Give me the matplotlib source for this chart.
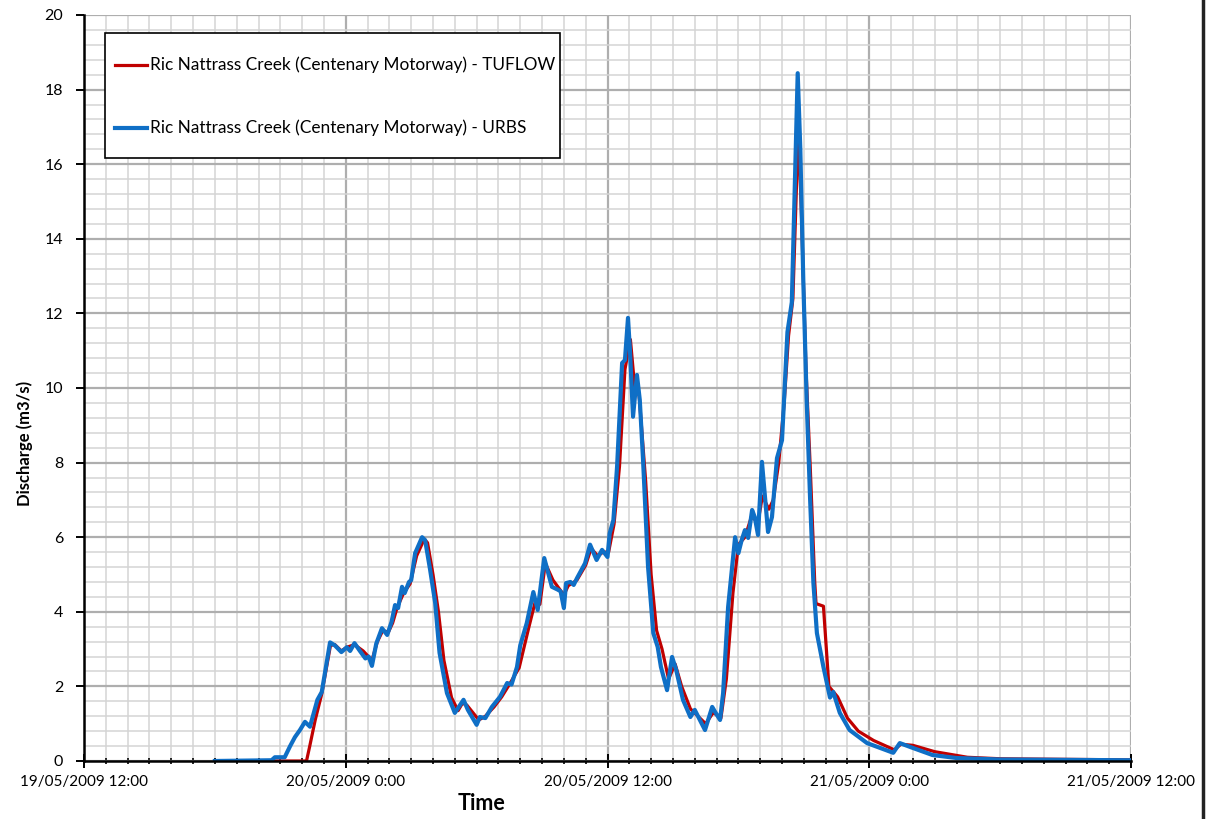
import datetime as dt
import matplotlib
matplotlib.use("Agg")
import matplotlib.pyplot as plt
import matplotlib.dates as mdates
from matplotlib.ticker import MultipleLocator, FuncFormatter, NullFormatter
from matplotlib.lines import Line2D
from matplotlib.patches import Rectangle

# Hours after 19/05/2009 12:00 and discharge (m3/s)
urbs_hours = [6.0, 8.6, 8.75, 9.2, 9.45, 9.67, 9.9, 10.13, 10.36, 10.7, 10.9, 11.28, 11.5, 11.8,
              12.05, 12.2, 12.4, 12.65, 12.9, 13.05, 13.2, 13.4, 13.66, 13.9, 14.1, 14.26, 14.4,
              14.58, 14.7, 14.9, 15.0, 15.18, 15.5, 15.64, 15.87, 16.1, 16.3, 16.64, 17.0, 17.15,
              17.4, 17.6, 18.0, 18.15, 18.4, 18.7, 19.07, 19.4, 19.6, 19.85, 20.0, 20.3, 20.6,
              20.8, 21.1, 21.45, 21.7, 21.85, 22.0, 22.1, 22.3, 22.45, 22.6, 22.97, 23.2, 23.5,
              23.75, 24.0, 24.1, 24.27, 24.44, 24.67, 24.8, 24.94, 25.03, 25.17, 25.35, 25.48,
              25.63, 25.86, 26.1, 26.3, 26.45, 26.73, 26.96, 27.15, 27.46, 27.8, 28.0, 28.47,
              28.8, 28.95, 29.16, 29.3, 29.53, 29.85, 30.0, 30.15, 30.3, 30.45, 30.63, 30.75,
              30.9, 31.08, 31.22, 31.36, 31.54, 31.77, 32.0, 32.25, 32.45, 32.72, 32.84, 32.98,
              33.13, 33.29, 33.44, 33.6, 33.9, 34.2, 34.35, 34.65, 35.1, 35.9, 37.1, 37.4, 38.0,
              38.9, 40.0, 42.0, 48.0]
urbs_flow = [0.0, 0.02, 0.1, 0.1, 0.4, 0.64, 0.83, 1.05, 0.92, 1.64, 1.85, 3.18, 3.1, 2.92,
             3.05, 2.95, 3.16, 2.95, 2.75, 2.8, 2.55, 3.15, 3.56, 3.38, 3.73, 4.18, 4.1,
             4.67, 4.5, 4.8, 4.85, 5.57, 6.0, 5.92, 5.12, 4.24, 2.9, 1.82, 1.29, 1.42,
             1.64, 1.37, 0.97, 1.18, 1.15, 1.45, 1.72, 2.09, 2.05, 2.52, 3.1, 3.7, 4.53,
             4.05, 5.44, 4.67, 4.6, 4.55, 4.1, 4.77, 4.8, 4.72, 4.9, 5.3, 5.8, 5.39,
             5.66, 5.47, 6.1, 6.46, 7.9, 10.67, 10.75, 11.88, 11.0, 9.23, 10.35, 9.68,
             8.07, 5.2, 3.43, 3.06, 2.52, 1.9, 2.79, 2.44, 1.64, 1.18, 1.37, 0.83,
             1.45, 1.3, 1.1, 1.82, 4.13, 6.0, 5.57, 5.92, 6.19, 5.98, 6.73, 6.54,
             6.06, 8.02, 7.08, 6.14, 6.54, 8.12, 8.6, 11.5, 12.3, 18.44, 16.4, 12.8,
             9.68, 7.0, 4.77, 3.43, 2.52, 1.7, 1.85, 1.29, 0.83, 0.48, 0.22, 0.48, 0.35,
             0.16, 0.08, 0.04, 0.02]

tuflow_hours = [6.0, 10.2, 10.35, 10.6, 10.9, 11.3, 11.5, 11.8, 12.05, 12.4, 12.8, 13.2, 13.45,
                13.7, 13.95, 14.15, 14.35, 14.65, 14.95, 15.25, 15.6, 15.75, 16.0, 16.25, 16.5,
                16.85, 17.15, 17.35, 17.55, 18.1, 18.4, 18.8, 19.15, 19.5, 19.95, 20.4, 20.7,
                20.9, 21.15, 21.5, 22.0, 22.2, 22.6, 23.0, 23.25, 23.55, 23.8, 24.05, 24.3,
                24.55, 24.8, 25.05, 25.25, 25.45, 25.75, 26.0, 26.25, 26.5, 26.8, 27.1, 27.4,
                27.8, 28.5, 28.85, 29.2, 29.45, 29.75, 30.0, 30.3, 30.6, 30.9, 31.1, 31.4,
                31.6, 31.85, 32.1, 32.3, 32.5, 32.75, 32.9, 33.1, 33.3, 33.5, 33.56, 33.9,
                34.15, 34.55, 35.0, 35.5, 36.2, 37.15, 37.45, 38.0, 39.0, 40.5, 42.0, 48.0]
tuflow_flow = [0.0, 0.0, 0.4, 1.1, 1.8, 3.1, 3.12, 2.95, 3.05, 3.12, 2.95, 2.7, 3.2,
               3.5, 3.45, 3.7, 4.1, 4.5, 4.75, 5.5, 5.95, 5.85, 5.0, 4.0, 2.7,
               1.7, 1.35, 1.55, 1.5, 1.1, 1.2, 1.45, 1.72, 2.05, 2.5, 3.6, 4.3,
               4.2, 5.3, 4.85, 4.45, 4.7, 4.85, 5.25, 5.7, 5.5, 5.6, 5.6, 6.35,
               7.9, 10.5, 11.3, 10.0, 9.8, 7.5, 5.0, 3.5, 3.0, 2.2, 2.6, 2.0,
               1.4, 1.0, 1.3, 1.15, 2.2, 4.5, 5.8, 6.0, 6.55, 6.4, 7.1, 6.75,
               7.0, 8.0, 9.6, 11.4, 12.4, 17.0, 14.5, 10.5, 7.8, 4.8, 4.22, 4.15,
               2.0, 1.72, 1.15, 0.8, 0.55, 0.3, 0.45, 0.42, 0.25, 0.1, 0.06, 0.03]

series_labels = ["Ric Nattrass Creek (Centenary Motorway) - TUFLOW",
                 "Ric Nattrass Creek (Centenary Motorway) - URBS"]
series_colors = ["#C00000", "#0F6FC6"]
series_widths = [2.3, 3.0]

start = dt.datetime(2009, 5, 19, 12, 0)


def to_times(hours):
    return [start + dt.timedelta(hours=h) for h in hours]


plt.rcParams["font.family"] = ["Lato", "DejaVu Sans"]

fig = plt.figure(figsize=(12.06, 8.19), dpi=100)
ax = fig.add_axes([84 / 1206, 1 - 761 / 819, (1131 - 84) / 1206, (761 - 15) / 819])

ax.plot(to_times(tuflow_hours), tuflow_flow, color=series_colors[0], lw=series_widths[0],
        solid_joinstyle="round", zorder=3)
ax.plot(to_times(urbs_hours), urbs_flow, color=series_colors[1], lw=series_widths[1],
        solid_joinstyle="round", zorder=4)

ax.set_xlim(start, start + dt.timedelta(hours=48))
ax.set_ylim(0, 20)

ax.xaxis.set_major_locator(mdates.HourLocator(byhour=[0, 12]))
ax.xaxis.set_minor_locator(mdates.HourLocator(interval=1))


def fmt_date(x, pos=None):
    d = mdates.num2date(x)
    return f"{d:%d/%m/%Y} {d.hour}:{d:%M}"


ax.xaxis.set_major_formatter(FuncFormatter(fmt_date))
ax.xaxis.set_minor_formatter(NullFormatter())
ax.yaxis.set_major_locator(MultipleLocator(2))
ax.yaxis.set_minor_locator(MultipleLocator(0.4))

ax.grid(which="minor", color="#D4D4D4", lw=1.1, zorder=0)
ax.grid(which="major", color="#AEAEAE", lw=1.6, zorder=0)
ax.set_axisbelow(True)

for side in ("top", "right"):
    ax.spines[side].set_visible(False)
for side in ("left", "bottom"):
    ax.spines[side].set_linewidth(1.8)
    ax.spines[side].set_color("black")
    ax.spines[side].set_zorder(5)

ax.tick_params(axis="x", which="major", direction="inout", length=10, width=1.4,
               labelsize=11, pad=5, colors="black")
ax.tick_params(axis="x", which="minor", direction="inout", length=5, width=1.2)
ax.tick_params(axis="y", which="major", direction="out", length=6, width=1.4,
               labelsize=11.5, pad=9)
ax.tick_params(axis="y", which="minor", length=0)

ax.set_xlabel("Time", fontsize=15.5, fontweight="bold")
ax.xaxis.set_label_coords((481 - 84) / 1047, (761 - 803) / 746)
ax.xaxis.label.set_va("center")
ax.set_ylabel("Discharge (m3/s)", fontsize=12, fontweight="bold")
ax.yaxis.set_label_coords((25 - 84) / 1047, (761 - 443) / 746)
ax.yaxis.label.set_va("center")

# Legend box with its two entries
leg_box = Rectangle((0.0201, 0.8083), 0.4345, 0.1676, transform=ax.transAxes,
                    facecolor="white", edgecolor="black", lw=1.2, zorder=6)
ax.add_patch(leg_box)
for label, color, width, ypos in zip(series_labels, series_colors, series_widths,
                                     [0.933, 0.8485]):
    ax.add_line(Line2D([0.0296, 0.0602], [ypos, ypos], transform=ax.transAxes,
                       color=color, lw=width, zorder=7))
    ax.text(0.0630, ypos, label, transform=ax.transAxes, fontsize=12.4,
            va="center", ha="left", zorder=7)

# Right-hand border of the chart area
fig.add_artist(Line2D([1203 / 1206, 1203 / 1206], [0, 1], transform=fig.transFigure,
                      color="#222222", lw=2.5))

fig.savefig("out.png", dpi=100)
